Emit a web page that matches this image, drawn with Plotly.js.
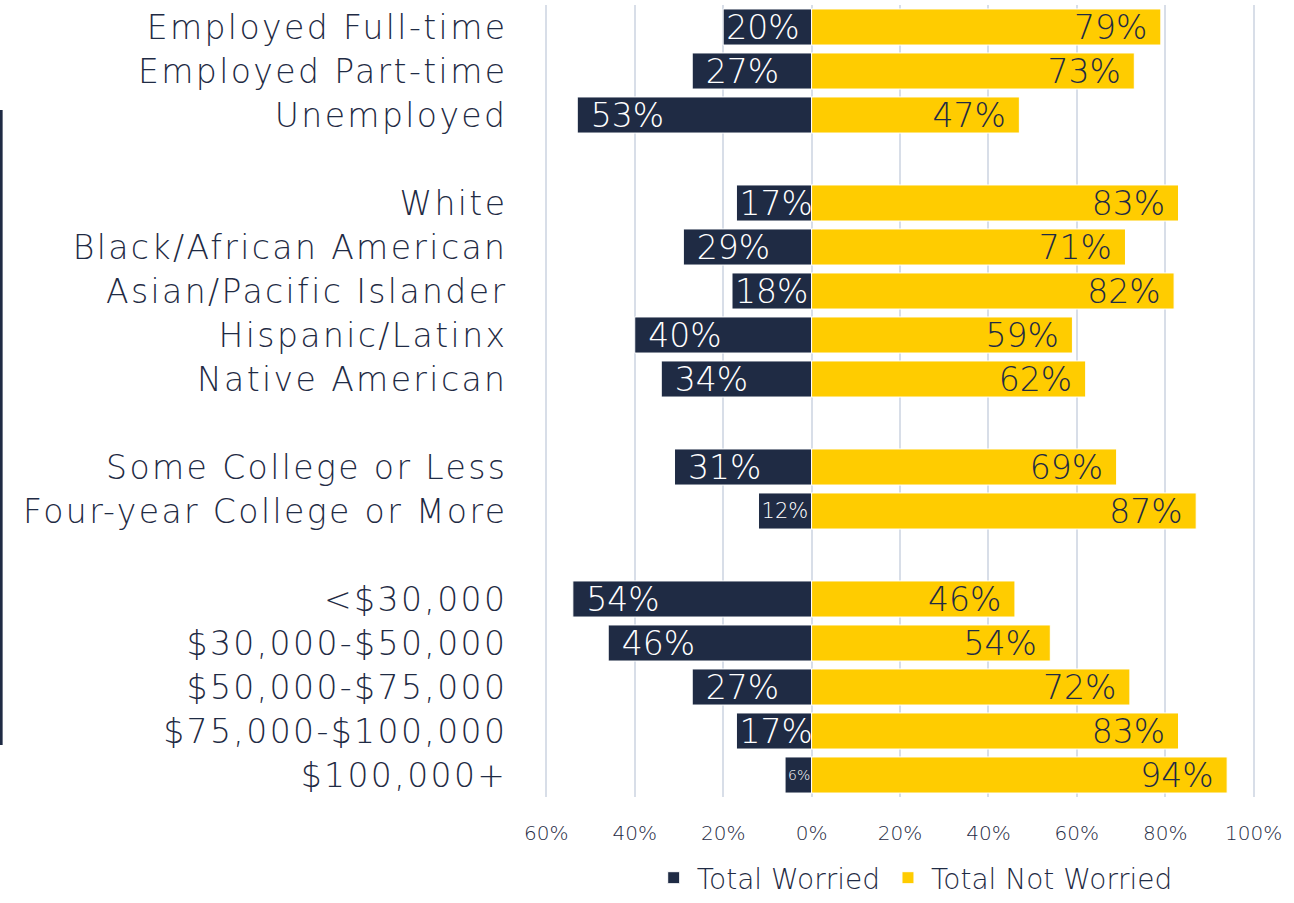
<!DOCTYPE html>
<html>
<head>
<meta charset="utf-8">
<script src="https://cdn.plot.ly/plotly-3.0.1.min.js"></script>
<style>
html,body{margin:0;padding:0;background:#fff;}
#chart{width:1294px;height:903px;}
#chart .ytick text{letter-spacing:2.4px;}
</style>
</head>
<body>
<div id="chart"></div>
<script>
const categories = [
  "Employed Full-time", "Employed Part-time", "Unemployed", " ",
  "White", "Black/African American", "Asian/Pacific Islander", "Hispanic/Latinx", "Native American", "  ",
  "Some College or Less", "Four-year College or More", "   ",
  "<$30,000", "$30,000-$50,000", "$50,000-$75,000", "$75,000-$100,000", "$100,000+"
];
const worried = [20, 27, 53, null, 17, 29, 18, 40, 34, null, 31, 12, null, 54, 46, 27, 17, 6];
const notWorried = [79, 73, 47, null, 83, 71, 82, 59, 62, null, 69, 87, null, 46, 54, 72, 83, 94];
const tickValues = [-60, -40, -20, 0, 20, 40, 60, 80, 100];
const tickLabels = ["60%", "40%", "20%", "0%", "20%", "40%", "60%", "80%", "100%"];

const navy = "#1f2b44";
const gold = "#ffcc00";
const FONT = "DejaVu Sans, Noto Sans, sans-serif";
const W = 300;
const NB = "\u00a0";

// label styling: shrink labels that would not fit in short bars, pad the long ones
const labelSize = v => (v === null ? 33 : v < 10 ? 14 : v < 15 ? 21 : 33);
const pad = v => (v !== null && v >= 25 ? NB : "");

const traces = [
  {
    type: "bar", orientation: "h", name: "Total Worried",
    y: categories,
    x: worried.map(v => v === null ? null : -v),
    text: worried.map(v => v === null ? "" : pad(v) + v + "%"),
    textposition: "inside", insidetextanchor: "end", textangle: 0, constraintext: "none",
    textfont: {family: FONT, weight: W, size: worried.map(labelSize), color: "#ffffff"},
    marker: {color: navy, line: {color: "#ffffff", width: 1}},
    hoverinfo: "skip"
  },
  {
    type: "bar", orientation: "h", name: "Total Not Worried",
    y: categories,
    x: notWorried,
    text: notWorried.map(v => v === null ? "" : v + "%" + pad(v)),
    textposition: "inside", insidetextanchor: "end", textangle: 0, constraintext: "none",
    textfont: {family: FONT, weight: W, size: 33, color: navy},
    marker: {color: gold, line: {color: "#ffffff", width: 1}},
    hoverinfo: "skip"
  }
];

const layout = {
  width: 1294, height: 903,
  margin: {l: 545, r: 39, t: 5, b: 106},
  paper_bgcolor: "#ffffff", plot_bgcolor: "#ffffff",
  barmode: "relative", bargap: 0.18,
  font: {family: FONT, weight: W, color: navy},
  showlegend: true,
  legend: {orientation: "h", x: 0.52, xanchor: "center",
           yref: "container", y: 0, yanchor: "bottom",
           font: {family: FONT, weight: W, size: 28, color: navy}, traceorder: "normal", itemwidth: 36},
  xaxis: {
    range: [-60.3, 100.3], tickvals: tickValues, ticktext: tickLabels,
    showgrid: true, gridcolor: "#d8dee8", gridwidth: 2,
    zeroline: true, zerolinecolor: "#d8dee8", zerolinewidth: 2,
    showline: false, ticks: "outside", ticklen: 18, tickcolor: "rgba(0,0,0,0)",
    tickfont: {family: FONT, weight: W, size: 20, color: navy}, fixedrange: true
  },
  yaxis: {
    type: "category", categoryorder: "array", categoryarray: categories,
    autorange: "reversed", showgrid: false, zeroline: false, showline: false,
    ticks: "outside", ticklen: 30, tickcolor: "rgba(0,0,0,0)",
    tickfont: {family: FONT, weight: W, size: 33, color: navy}, fixedrange: true
  },
  shapes: [{
    type: "line", xref: "paper", yref: "paper",
    x0: -0.766, x1: -0.766, y0: 0.0657, y1: 0.8674,
    line: {color: navy, width: 3}
  }]
};

Plotly.newPlot("chart", traces, layout, {displayModeBar: false, staticPlot: true});
</script>
</body>
</html>
